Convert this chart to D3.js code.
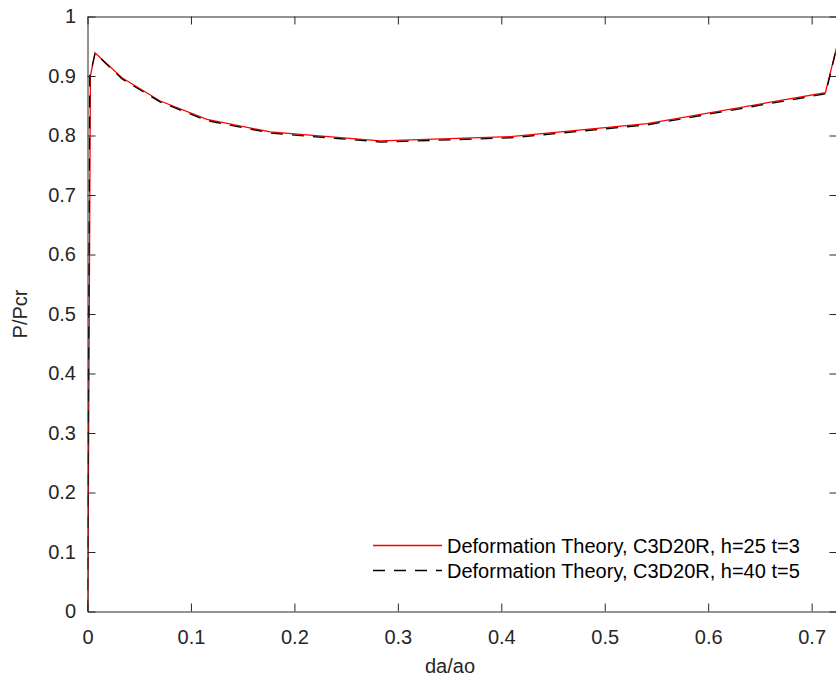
<!DOCTYPE html>
<html>
<head>
<meta charset="utf-8">
<script src="https://cdn.jsdelivr.net/npm/d3@7"></script>
<style>
  body { margin: 0; background: #fff; }
  svg { display: block; font-family: "Liberation Sans", Arial, sans-serif; }
</style>
</head>
<body>
<svg width="836" height="681"></svg>
<script>
// data
var redX = [0.0003, 0.0028, 0.0072, 0.0333, 0.0703, 0.1155, 0.1767, 0.2831, 0.4088, 0.541, 0.7133, 0.7265];
var redY = [0, 0.900, 0.939, 0.897, 0.858, 0.827, 0.806, 0.791, 0.798, 0.820, 0.872, 0.965];
var blackX = [0, 0.0022, 0.0074, 0.0335, 0.0705, 0.1158, 0.1770, 0.2835, 0.4090, 0.5415, 0.7135, 0.7262];
var blackY = [0, 0.900, 0.938, 0.895, 0.856, 0.825, 0.804, 0.789, 0.796, 0.818, 0.870, 0.962];
var legendLabels = ["Deformation Theory, C3D20R, h=25 t=3", "Deformation Theory, C3D20R, h=40 t=5"];
var xTicks = [0, 0.1, 0.2, 0.3, 0.4, 0.5, 0.6, 0.7];
var yTicks = [0, 0.1, 0.2, 0.3, 0.4, 0.5, 0.6, 0.7, 0.8, 0.9, 1];

var svg = d3.select("svg"),
    width = +svg.attr("width"),
    height = +svg.attr("height");

// plot box (right edge falls just past the picture, as in the reference)
var boxL = 87.5, boxR = 837.5, boxT = 16.5, boxB = 611.5;
var axisColor = "#262626";
var redColor = "#ff0000";
var dash = "12,9";

var x = d3.scaleLinear().domain([0, 0.725]).range([boxL, boxR]);
var y = d3.scaleLinear().domain([0, 1]).range([boxB, boxT]);

svg.append("clipPath").attr("id", "clip")
  .append("rect").attr("x", boxL).attr("y", boxT)
  .attr("width", boxR - boxL).attr("height", boxB - boxT);

function zip(xs, ys) {
  return xs.map(function(d, i) { return [d, ys[i]]; });
}

var lineGen = d3.line()
  .x(function(d) { return x(d[0]); })
  .y(function(d) { return y(d[1]); });

var plot = svg.append("g").attr("clip-path", "url(#clip)");

plot.append("path")
  .datum(zip(redX, redY))
  .attr("fill", "none")
  .attr("stroke", redColor)
  .attr("stroke-width", 1.3)
  .attr("d", lineGen);

plot.append("path")
  .datum(zip(blackX, blackY))
  .attr("fill", "none")
  .attr("stroke", "#000")
  .attr("stroke-width", 1.3)
  .attr("stroke-dasharray", dash)
  .attr("d", lineGen);

// axes, ticks pointing inward, box on
var fmt = d3.format("~g");

var gx = svg.append("g").attr("transform", "translate(0," + boxB + ")")
  .call(d3.axisBottom(x).tickValues(xTicks).tickFormat(fmt).tickSizeInner(-8).tickSizeOuter(0).tickPadding(18.5));
var gxTop = svg.append("g").attr("transform", "translate(0," + boxT + ")")
  .call(d3.axisTop(x).tickValues(xTicks).tickFormat("").tickSizeInner(-8).tickSizeOuter(0));
var gy = svg.append("g").attr("transform", "translate(" + boxL + ",0)")
  .call(d3.axisLeft(y).tickValues(yTicks).tickFormat(fmt).tickSizeInner(-8).tickSizeOuter(0).tickPadding(11.5));
var gyRight = svg.append("g").attr("transform", "translate(" + boxR + ",0)")
  .call(d3.axisRight(y).tickValues(yTicks).tickFormat("").tickSizeInner(-8).tickSizeOuter(0));

[gx, gxTop, gy, gyRight].forEach(function(g) {
  g.selectAll("path, line").attr("stroke", axisColor).attr("stroke-width", 1);
  g.selectAll("text").attr("fill", axisColor).style("font-size", "20px")
    .style("font-family", "'Liberation Sans', Arial, sans-serif");
});

// axis labels
svg.append("text")
  .attr("x", 450).attr("y", 673)
  .attr("text-anchor", "middle")
  .attr("fill", axisColor)
  .style("font-size", "20px")
  .text("da/ao");

svg.append("text")
  .attr("transform", "translate(27,314) rotate(-90)")
  .attr("text-anchor", "middle")
  .attr("fill", axisColor)
  .style("font-size", "20px")
  .text("P/Pcr");

// legend, no box
var legend = svg.append("g");
legendLabels.forEach(function(lab, i) {
  var ly = 545.5 + i * 25;
  var seg = legend.append("line")
    .attr("x1", 373).attr("x2", 442).attr("y1", ly).attr("y2", ly)
    .attr("stroke-width", 1.3);
  if (i === 0) {
    seg.attr("stroke", redColor);
  } else {
    seg.attr("stroke", "#000").attr("stroke-dasharray", dash);
  }
  legend.append("text")
    .attr("x", 447).attr("y", ly).attr("dy", "0.35em")
    .attr("fill", "#000")
    .style("font-size", "20px")
    .text(lab);
});
</script>
</body>
</html>
